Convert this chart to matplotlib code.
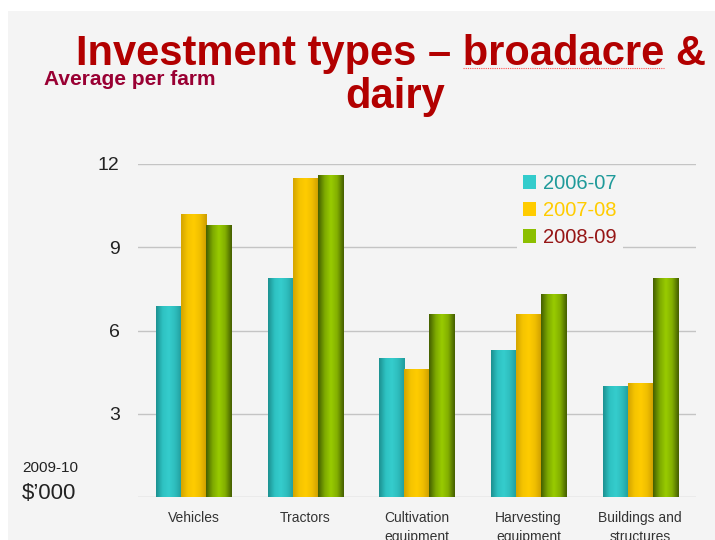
import numpy as np
import matplotlib
matplotlib.use("Agg")
import matplotlib.pyplot as plt
from matplotlib.patches import Rectangle, Patch
from matplotlib.colors import LinearSegmentedColormap

plt.rcParams['font.family'] = ['Liberation Sans', 'DejaVu Sans']

# data ($'000 per farm, 2009-10 dollars)
categories = ["Vehicles", "Tractors", "Cultivation\nequipment",
              "Harvesting\nequipment", "Buildings and\nstructures"]
years = ["2006-07", "2007-08", "2008-09"]
y2006_07 = [6.9, 7.9, 5.0, 5.3, 4.0]
y2007_08 = [10.2, 11.5, 4.6, 6.6, 4.1]
y2008_09 = [9.8, 11.6, 6.6, 7.3, 7.9]
yticks = [3, 6, 9, 12]

# cylinder-like shading, left -> right
shades = [
    ['#1c9090', '#2ec2c2', '#35cdcd', '#2ebcbc', '#209c9c'],
    ['#d4a400', '#f5c400', '#ffcc00', '#efbe00', '#cc9c00'],
    ['#445f00', '#7ca800', '#99cc00', '#82ae00', '#445e00'],
]
base_colors = ['#33cccc', '#ffcc00', '#8cbf00']
label_colors = ['#1f9a9a', '#ffcc00', '#961616']


def shade_bar(ax, patch, stops):
    cmap = LinearSegmentedColormap.from_list('bar', stops)
    x0, y0 = patch.get_x(), patch.get_y()
    w, h = patch.get_width(), patch.get_height()
    img = ax.imshow(np.linspace(0, 1, 64).reshape(1, -1), cmap=cmap,
                    extent=(x0, x0 + w, y0, y0 + h), aspect='auto',
                    interpolation='bicubic', zorder=3)
    img.set_clip_path(patch)


fig = plt.figure(figsize=(7.15, 5.40), dpi=100)
fig.patch.set_facecolor('white')
# slide background
fig.patches.append(Rectangle((8 / 715, 0), 1, 529 / 540, transform=fig.transFigure,
                             facecolor='#f4f4f4', edgecolor='none', zorder=-10))

ax = fig.add_axes([0.1926, 0.0796, 0.7808, 0.6167])
ax.set_facecolor('none')

x = np.arange(len(categories))
w = 0.224
series = [y2006_07, y2007_08, y2008_09]
for i, vals in enumerate(series):
    bars = ax.bar(x + (i - 1) * w, vals, w, color=base_colors[i], linewidth=0, zorder=2)
    for p in bars.patches:
        shade_bar(ax, p, shades[i])

ax.set_xlim(-0.5, len(categories) - 0.5)
ax.set_ylim(0, 12)
ax.set_yticks(yticks)
ax.set_xticks(x)
ax.set_xticklabels(categories, fontsize=10, color='#333333', linespacing=1.45)
ax.tick_params(axis='x', length=0, pad=10)
ax.tick_params(axis='y', length=0, pad=13, labelsize=14, labelcolor='#222222')
ax.grid(axis='y', color='#c4c4c4', linewidth=1.0, zorder=0)
ax.axhline(0, color='#c4c4c4', linewidth=1.0, zorder=1)
for s in ax.spines.values():
    s.set_visible(False)

handles = [Patch(facecolor=c, edgecolor='none') for c in base_colors]
leg = ax.legend(handles, years, loc='upper left', bbox_to_anchor=(0.679, 0.988),
                fontsize=14.5, frameon=True, facecolor='#f4f4f4', edgecolor='none',
                framealpha=1, borderpad=0.3, borderaxespad=0, handlelength=0.65,
                handleheight=0.65, handletextpad=0.35, labelspacing=0.4,
                labelcolor=label_colors, fancybox=False)
leg.set_zorder(5)

# titles and side notes
title_kw = dict(fontsize=30, fontweight='bold', color='#b20000', ha='center', va='baseline')
t1 = fig.text(0.547, 0.8796, "Investment types \u2013 broadacre &", **title_kw)
fig.text(0.552, 0.80, "dairy", **title_kw)

fig.text(0.0615, 0.842, "Average per farm", fontsize=15, fontweight='bold',
         color='#990033', ha='left', va='baseline')
fig.text(0.0308, 0.1259, "2009-10", fontsize=11, color='#222222', ha='left', va='baseline')
fig.text(0.0308, 0.0759, "$\u2019000", fontsize=16, color='#222222', ha='left', va='baseline')

# spell-check underline under "broadacre"
r = fig.canvas.get_renderer()
bb = t1.get_window_extent(r)
pre = fig.text(0, 0, "Investment types \u2013 ", fontsize=30, fontweight='bold')
word = fig.text(0, 0, "broadacre", fontsize=30, fontweight='bold')
pw = pre.get_window_extent(r).width
ww = word.get_window_extent(r).width
pre.remove()
word.remove()
W, H = fig.bbox.width, fig.bbox.height
uy = 0.8796 - 3 / H
fig.add_artist(plt.Line2D([(bb.x0 + pw) / W, (bb.x0 + pw + ww) / W], [uy, uy],
                          transform=fig.transFigure, color='#ff5050',
                          linestyle=(0, (1, 1)), linewidth=0.8))

fig.savefig('out.png', dpi=100)
